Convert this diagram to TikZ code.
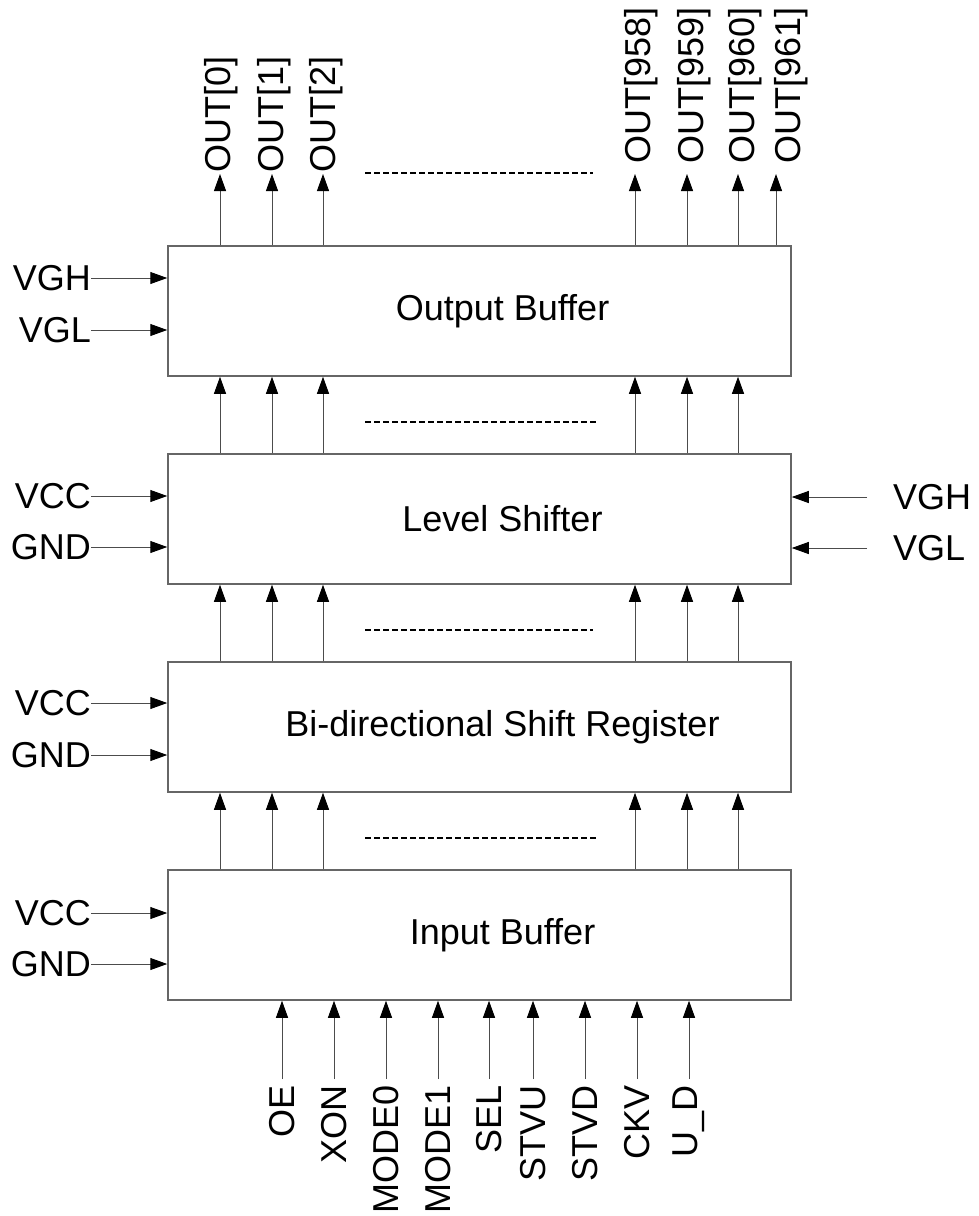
\documentclass[tikz,border=0pt]{standalone}
\usepackage{fontspec}
\setmainfont{Liberation Sans}
\usetikzlibrary{calc,arrows.meta,positioning}

\begin{document}
\begin{tikzpicture}[x=1pt,y=-1pt,
    block/.style={draw=black!60,line width=1.5pt,minimum width=623pt,minimum height=130pt,inner sep=0pt},
    link/.style={draw=black!70,line width=1pt,-{Triangle[length=17pt,width=12pt,color=black]}},
    pin/.style={font=\fontsize{36}{40}\selectfont,inner sep=1pt},
    dots/.style={line width=1.3pt,dash pattern=on 6pt off 3pt}]
            \path[use as bounding box] (0,0) rectangle (979,1216);

            % the four blocks
            \node[block] (ob) at (479.5,311) {};
            \node[block] (ls) at (479.5,519) {};
            \node[block] (sr) at (479.5,727) {};
            \node[block] (ib) at (479.5,935) {};
            \node[pin] (obt) at ($ (ob.center) + (23,0) $) {Output Buffer};
            \node[pin] (lst) at ($ (ls.center) + (23,0) $) {Level Shifter};
            \node[pin] (srt) at ($ (sr.center) + (23,0) $) {Bi-directional Shift Register};
            \node[pin] (ibt) at ($ (ib.center) + (23,0) $) {Input Buffer};

            % buses between the blocks
            \foreach[count=\i] \x in {220,272,323,635,687,738} {
                \coordinate (c\i) at (\x,0);
                \draw[link] (c\i |- ib.north) -- (c\i |- sr.south);
                \draw[link] (c\i |- sr.north) -- (c\i |- ls.south);
                \draw[link] (c\i |- ls.north) -- (c\i |- ob.south);
            }

            % outputs
            \foreach[count=\i] \x/\lx/\ly/\lbl in {220/221/174/0,272/274/174/1,323/326/174/2,635/641/165/958,687/694/165/959,738/745/165/960,776/791/165/961} {
                \coordinate (o\i) at (\x,174);
                \draw[link] (o\i |- ob.north) -- (o\i);
                \node[pin,rotate=90,anchor=west] (out\i) at (\lx,\ly) {OUT[\lbl]};
            }

            % inputs
            \foreach[count=\i] \x/\lbl in {282/OE,334/XON,386/MODE0,438/MODE1,489/SEL,533/STVU,585/STVD,637/CKV,689/U\_D} {
                \coordinate (in\i) at (\x,1079);
                \draw[link] (in\i) -- (in\i |- ib.south);
                \node[pin,rotate=90,anchor=east] (inl\i) at (\x,1084) {\lbl};
            }

            % supplies on the left
            \foreach[count=\i] \y/\lbl in {278/VGH,330/VGL,496/VCC,547/GND,703/VCC,755/GND,913/VCC,964/GND} {
                \coordinate (w\i) at (91,\y);
                \draw[link] (w\i) -- (w\i -| ob.west);
                \node[pin,anchor=east,inner sep=0pt] (wl\i) at (w\i) {\lbl};
            }

            % supplies on the right
            \foreach[count=\i] \y/\lbl in {497/VGH,548/VGL} {
                \coordinate (e\i) at (867,\y);
                \draw[link] (e\i) -- (e\i -| ls.east);
                \node[pin,anchor=west] (el\i) at ($ (e\i) + (25,0) $) {\lbl};
            }

            % dashed gaps
            \foreach[count=\i] \y/\xe in {173/593,422/598,630/593,838/598} {
                \coordinate (da\i) at (365,\y);
                \coordinate (db\i) at (\xe,\y);
                \draw[dots] (da\i) -- (db\i);
            }
        \end{tikzpicture}
\end{document}
